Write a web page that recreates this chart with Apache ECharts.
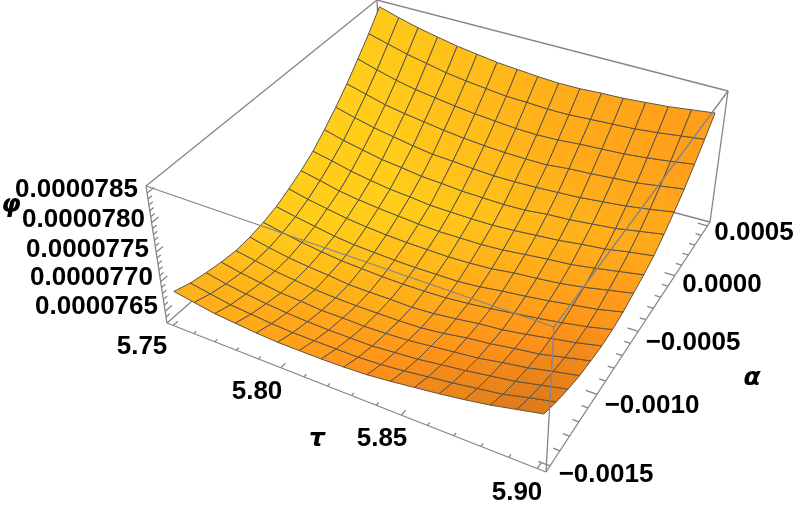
<!DOCTYPE html>
<html>
<head>
<meta charset="utf-8">
<title>phi surface</title>
<script src="https://cdn.jsdelivr.net/npm/echarts@6/dist/echarts.min.js"></script>
<style>
html, body { margin: 0; padding: 0; background: #fff; }
#chart { width: 795px; height: 510px; }
</style>
</head>
<body>
<div id="chart"></div>
<script>
// values
const tauValues = [5.75, 5.759375, 5.76875, 5.778125, 5.7875, 5.796875, 5.80625, 5.815625, 5.825, 5.834375, 5.84375, 5.853125, 5.8625, 5.871875, 5.88125, 5.890625, 5.9];
const alphaValues = [-0.0015, -0.001375, -0.00125, -0.001125, -0.001, -0.000875, -0.00075, -0.000625, -0.0005, -0.000375, -0.00025, -0.000125, 0, 0.000125, 0.00025, 0.000375, 0.0005];
// phi in units of 1e-8, one row per alpha, one column per tau
const phiRows = [
    [7680, 7674, 7668, 7665, 7662, 7660, 7660, 7660, 7661, 7663, 7667, 7672, 7677, 7683, 7690, 7699, 7708],
    [7671, 7665, 7659, 7656, 7653, 7651, 7651, 7651, 7651, 7653, 7657, 7662, 7667, 7673, 7679, 7689, 7698],
    [7666, 7659, 7654, 7650, 7647, 7645, 7644, 7644, 7644, 7647, 7650, 7655, 7660, 7666, 7672, 7681, 7690],
    [7662, 7655, 7650, 7645, 7643, 7640, 7640, 7639, 7640, 7642, 7646, 7650, 7654, 7661, 7667, 7676, 7684],
    [7660, 7654, 7648, 7644, 7640, 7638, 7637, 7637, 7637, 7638, 7642, 7648, 7652, 7658, 7663, 7672, 7681],
    [7662, 7655, 7649, 7645, 7642, 7638, 7637, 7637, 7636, 7638, 7642, 7647, 7650, 7656, 7663, 7670, 7679],
    [7667, 7660, 7654, 7649, 7645, 7643, 7641, 7640, 7640, 7641, 7644, 7648, 7653, 7658, 7664, 7671, 7680],
    [7674, 7667, 7661, 7655, 7651, 7649, 7647, 7646, 7646, 7646, 7649, 7654, 7658, 7663, 7669, 7675, 7684],
    [7685, 7677, 7671, 7665, 7661, 7658, 7656, 7655, 7654, 7655, 7657, 7662, 7665, 7669, 7675, 7683, 7691],
    [7697, 7690, 7682, 7677, 7673, 7670, 7667, 7665, 7665, 7665, 7667, 7671, 7675, 7678, 7684, 7691, 7698],
    [7712, 7705, 7697, 7691, 7686, 7683, 7679, 7678, 7677, 7677, 7679, 7682, 7685, 7690, 7694, 7701, 7707],
    [7731, 7722, 7715, 7708, 7704, 7699, 7697, 7694, 7693, 7692, 7693, 7697, 7699, 7703, 7707, 7714, 7721],
    [7752, 7743, 7735, 7729, 7723, 7718, 7716, 7713, 7711, 7711, 7712, 7714, 7716, 7720, 7724, 7730, 7737],
    [7775, 7766, 7757, 7751, 7746, 7741, 7737, 7734, 7732, 7731, 7731, 7735, 7737, 7740, 7743, 7749, 7755],
    [7801, 7791, 7782, 7775, 7770, 7765, 7761, 7758, 7755, 7754, 7755, 7758, 7760, 7762, 7766, 7771, 7777],
    [7828, 7819, 7810, 7803, 7796, 7791, 7787, 7783, 7782, 7780, 7780, 7782, 7784, 7786, 7790, 7795, 7800],
    [7858, 7848, 7839, 7832, 7825, 7820, 7815, 7812, 7809, 7807, 7807, 7809, 7810, 7813, 7816, 7821, 7826]
];

const tauTicks = ['5.75', '5.80', '5.85', '5.90'];
const alphaTicks = ['\u22120.0015', '\u22120.0010', '\u22120.0005', '0.0000', '0.0005'];
const phiTicks = ['0.0000785', '0.0000780', '0.0000775', '0.0000770', '0.0000765'];

// where the labels sit on the 795x510 page
const tauSpots = [[142, 347], [257, 392], [382, 439], [517, 493]];
const alphaSpots = [[606, 475], [652, 406], [693, 343], [722, 285], [754, 233]];
const phiSpots = [[138, 190], [145, 220], [149, 250], [153, 278], [158, 307]];

// box range, 2% wider than the data like Mathematica does
const tauRange = [5.747, 5.903];
const alphaRange = [-0.00154, 0.00054];
const phiRange = [7630, 7862];

// corners of the bounding box on the page: left, front, right, back
const floorCorners = [[167, 323], [546, 472], [710, 222], [382, 135]];
const roofCorners = [[146, 186], [554, 327], [728, 91], [377, 0]];

// unit square -> quad
const squareToQuad = q => {
    const dx1 = q[1][0] - q[2][0], dx2 = q[3][0] - q[2][0], sx = q[0][0] - q[1][0] + q[2][0] - q[3][0];
    const dy1 = q[1][1] - q[2][1], dy2 = q[3][1] - q[2][1], sy = q[0][1] - q[1][1] + q[2][1] - q[3][1];
    const den = dx1 * dy2 - dx2 * dy1;
    const g = (sx * dy2 - dx2 * sy) / den;
    const h = (dx1 * sy - sx * dy1) / den;
    return (u, v) => {
        const w = g * u + h * v + 1;
        return [
            ((q[1][0] - q[0][0] + g * q[1][0]) * u + (q[3][0] - q[0][0] + h * q[3][0]) * v + q[0][0]) / w,
            ((q[1][1] - q[0][1] + g * q[1][1]) * u + (q[3][1] - q[0][1] + h * q[3][1]) * v + q[0][1]) / w
        ];
    };
};
const floorMap = squareToQuad(floorCorners);
const roofMap = squareToQuad(roofCorners);

const boxPoint = (u, v, w) => {
    const a = floorMap(u, v), b = roofMap(u, v);
    return [a[0] + (b[0] - a[0]) * w, a[1] + (b[1] - a[1]) * w];
};
const toU = tau => (tau - tauRange[0]) / (tauRange[1] - tauRange[0]);
const toV = alpha => (alpha - alphaRange[0]) / (alphaRange[1] - alphaRange[0]);
const toW = phi => (phi - phiRange[0]) / (phiRange[1] - phiRange[0]);

// fake the Mathematica lighting from the slope at a grid node
const nodeColor = (i, j) => {
    const iL = Math.max(i - 2, 0), iR = Math.min(i + 2, tauValues.length - 1);
    const jL = Math.max(j - 2, 0), jR = Math.min(j + 2, alphaValues.length - 1);
    const du = (toW(phiRows[j][iR]) - toW(phiRows[j][iL])) / (toU(tauValues[iR]) - toU(tauValues[iL]));
    const dv = (toW(phiRows[jR][i]) - toW(phiRows[jL][i])) / (toV(alphaValues[jR]) - toV(alphaValues[jL]));
    let g = 168 - 50 * du + 25 * Math.min(dv, 1) - 25 * Math.max(dv - 1, 0);
    g = Math.max(100, Math.min(205, g));
    const r = Math.min(255, 70 + 1.25 * g);
    return 'rgb(' + Math.round(r) + ',' + Math.round(g) + ',' + 26 + ')';
};

const cellData = [];
for (let j = 0; j < alphaValues.length - 1; j++) {
    for (let i = 0; i < tauValues.length - 1; i++) {
        cellData.push([
            tauValues[i], tauValues[i + 1], alphaValues[j], alphaValues[j + 1],
            phiRows[j][i], phiRows[j][i + 1], phiRows[j + 1][i + 1], phiRows[j + 1][i],
            i, j
        ]);
    }
}

const renderCell = (params, api) => {
    const u0 = toU(api.value(0)), u1 = toU(api.value(1)), v0 = toV(api.value(2)), v1 = toV(api.value(3));
    const w = [toW(api.value(4)), toW(api.value(5)), toW(api.value(6)), toW(api.value(7))];
    const i = api.value(8), j = api.value(9);
    const pts = [boxPoint(u0, v0, w[0]), boxPoint(u1, v0, w[1]), boxPoint(u1, v1, w[2]), boxPoint(u0, v1, w[3])].map(p => api.coord(p));
    // shade along the cell, from the lower mesh line to the upper one
    const fill = new echarts.graphic.LinearGradient(
        (pts[0][0] + pts[1][0]) / 2, (pts[0][1] + pts[1][1]) / 2,
        (pts[2][0] + pts[3][0]) / 2, (pts[2][1] + pts[3][1]) / 2,
        [{ offset: 0, color: nodeColor(i, j) }, { offset: 1, color: nodeColor(i, j + 1) }],
        true
    );
    return {
        type: 'polygon',
        shape: { points: pts },
        style: { fill: fill, stroke: '#5a5446', lineWidth: 1 }
    };
};

// box edges and ticks as segments [u0, v0, w0, u1, v1, w1] in box units
const backEdges = [
    [0, 0, 1, 0, 1, 1], [0, 1, 1, 1, 1, 1], [1, 1, 0, 1, 1, 1],
    [0, 0, 0, 0, 1, 0], [0, 1, 0, 1, 1, 0], [0, 1, 0, 0, 1, 1],
    [0, 0, 0, 1, 0, 0], [1, 0, 0, 1, 1, 0], [0, 0, 0, 0, 0, 1]
];
const frontEdges = [[0, 0, 1, 1, 0, 1], [1, 0, 1, 1, 1, 1], [1, 0, 0, 1, 0, 1]];

const tickSegs = [];
for (let n = 0; n <= 15; n++) {
    const u = toU(5.75 + n * 0.01), len = n % 5 === 0 ? 0.018 : 0.01;
    tickSegs.push([u, 0, 0, u, len, 0]);
}
for (let n = 0; n <= 20; n++) {
    const v = toV(-0.0015 + n * 0.0001), len = n % 5 === 0 ? 0.026 : 0.015;
    tickSegs.push([1, v, 0, 1 - len, v, 0]);
}
for (let n = 0; n <= 21; n++) {
    const w = toW(7640 + n * 10), len = n % 5 === 1 ? 0.025 : 0.014;
    tickSegs.push([0, 0, w, 0, len, w]);
}

const renderSeg = (params, api) => {
    const a = api.coord(boxPoint(api.value(0), api.value(1), api.value(2)));
    const b = api.coord(boxPoint(api.value(3), api.value(4), api.value(5)));
    return {
        type: 'line',
        shape: { x1: a[0], y1: a[1], x2: b[0], y2: b[1] },
        style: { stroke: '#858585', lineWidth: 1.3 }
    };
};

const labelFont = 'bold 26px "Liberation Sans"';
const greekFont = 'italic bold 25px "DejaVu Sans"';
const textEl = (text, pos, align, font) => ({
    type: 'text', x: pos[0], y: pos[1], silent: true,
    style: { text: text, font: font, fill: '#000', textAlign: align, textVerticalAlign: 'middle' }
});
const labels = [];
tauTicks.forEach((t, i) => labels.push(textEl(t, tauSpots[i], 'center', labelFont)));
alphaTicks.forEach((t, i) => labels.push(textEl(t, alphaSpots[i], 'center', labelFont)));
phiTicks.forEach((t, i) => labels.push(textEl(t, phiSpots[i], 'right', labelFont)));
labels.push(textEl('\u03c4', [317, 439], 'center', greekFont));
labels.push(textEl('\u03b1', [752, 378], 'center', greekFont));
labels.push(textEl('\u03c6', [11, 205], 'center', greekFont));

const chart = echarts.init(document.getElementById('chart'));
chart.setOption({
    animation: false,
    backgroundColor: '#fff',
    grid: { left: 0, right: 0, top: 0, bottom: 0 },
    xAxis: { type: 'value', min: 0, max: 795, show: false },
    yAxis: { type: 'value', min: 0, max: 510, inverse: true, show: false },
    graphic: { elements: labels },
    series: [
        { type: 'custom', coordinateSystem: 'cartesian2d', clip: false, z: 1, renderItem: renderSeg, data: backEdges, encode: { x: [0], y: [1] } },
        { type: 'custom', coordinateSystem: 'cartesian2d', clip: false, z: 1, renderItem: renderSeg, data: tickSegs, encode: { x: [0], y: [1] } },
        { type: 'custom', coordinateSystem: 'cartesian2d', clip: false, z: 2, renderItem: renderCell, data: cellData, encode: { x: [0], y: [1] } },
        { type: 'custom', coordinateSystem: 'cartesian2d', clip: false, z: 3, renderItem: renderSeg, data: frontEdges, encode: { x: [0], y: [1] } }
    ]
});
</script>
</body>
</html>
